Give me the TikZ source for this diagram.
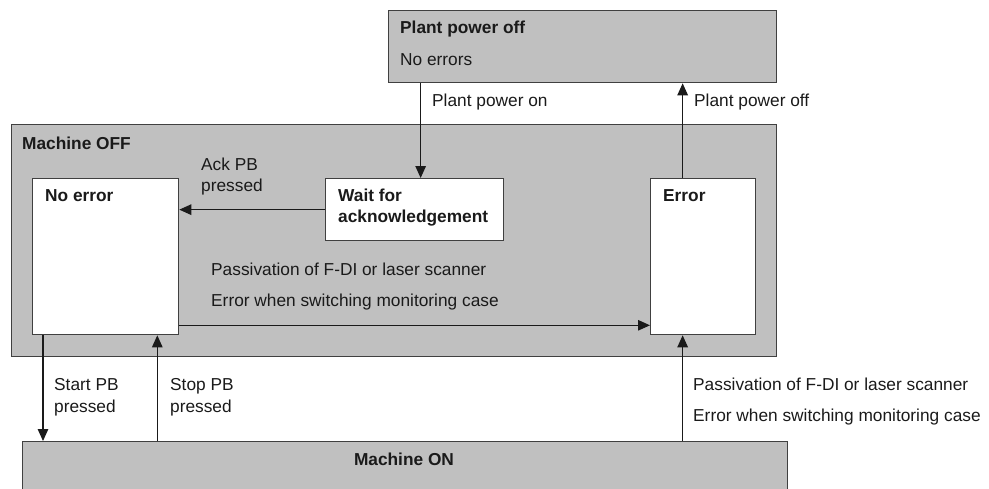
\documentclass[tikz,border=0pt]{standalone}
\usepackage{fontspec}
\setmainfont{Liberation Sans}
\usetikzlibrary{arrows.meta,calc}
\definecolor{boxgray}{HTML}{C0C0C0}
\definecolor{edge}{HTML}{404040}
\definecolor{txt}{HTML}{1A1A1A}
\begin{document}
\begin{tikzpicture}[x=1pt,y=-1pt,
  graybox/.style={draw=edge,fill=boxgray,line width=1.3pt,anchor=north west,inner sep=0pt},
  whitebox/.style={draw=edge,fill=white,line width=1.3pt,anchor=north west,inner sep=0pt},
  lbl/.style={anchor=base west,inner sep=0pt,text=txt,font=\fontsize{17.3}{20}\selectfont},
  blbl/.style={lbl,font=\fontsize{17.3}{20}\selectfont\bfseries},
  arr/.style={draw=txt,line width=1.2pt,-{Triangle[length=12pt,width=10.5pt]}}]
\useasboundingbox (0,0) rectangle (989,488);
\clip (0,0) rectangle (989,488);
% boxes
\node[graybox,minimum width=388pt,minimum height=72pt] (ppo) at (388,10) {};
\node[graybox,minimum width=765pt,minimum height=232pt] (moff) at (11,124) {};
\node[whitebox,minimum width=146pt,minimum height=156pt] (noerr) at (32,178) {};
\node[whitebox,minimum width=178pt,minimum height=62pt] (wait) at (325,178) {};
\node[whitebox,minimum width=105pt,minimum height=156pt] (err) at (650,178) {};
\node[graybox,minimum width=765pt,minimum height=70pt] (mon) at (22,441) {};
% texts
\node[blbl] (t1) at (400,33) {Plant power off};
\node[lbl] (t2) at (400,65) {No errors};
\node[lbl] (t3) at (432,106) {Plant power on};
\node[lbl] (t4) at (694,106) {Plant power off};
\node[blbl] (t5) at (22,149) {Machine OFF};
\node[lbl] (t6) at (201,170) {Ack PB};
\node[lbl] (t7) at (201,191) {pressed};
\node[blbl] (t8) at (45,201) {No error};
\node[blbl] (t9) at (338,201) {Wait for};
\node[blbl] (t10) at (338,222) {acknowledgement};
\node[blbl] (t11) at (663,201) {Error};
\node[lbl] (t12) at (211,275) {Passivation of F-DI or laser scanner};
\node[lbl] (t13) at (211,306) {Error when switching monitoring case};
\node[lbl] (t14) at (54,390) {Start PB};
\node[lbl] (t15) at (54,412) {pressed};
\node[lbl] (t16) at (170,390) {Stop PB};
\node[lbl] (t17) at (170,412) {pressed};
\node[lbl] (t18) at (693,390) {Passivation of F-DI or laser scanner};
\node[lbl] (t19) at (693,421) {Error when switching monitoring case};
\node[blbl,anchor=base] (t20) at (404,465) {Machine ON};
% connectors
\draw[arr] ([xshift=6pt]wait.north |- ppo.south) -- ([xshift=6pt]wait.north);
\draw[arr] ([xshift=-20.5pt]err.north) -- ([xshift=-20.5pt]err.north |- ppo.south);
\draw[arr] (wait.west) -- (wait.west -| noerr.east);
\draw[arr] ([yshift=10pt]noerr.south east) -- ([yshift=10pt]noerr.south east -| err.west);
\draw[arr] ([xshift=11pt]noerr.south west) -- ([xshift=11pt]noerr.south west |- mon.north);
\draw[arr] ([xshift=-22pt]noerr.south east |- mon.north) -- ([xshift=-22pt]noerr.south east);
\draw[arr] ([xshift=-20.5pt]err.south |- mon.north) -- ([xshift=-20.5pt]err.south);
\end{tikzpicture}
\end{document}
